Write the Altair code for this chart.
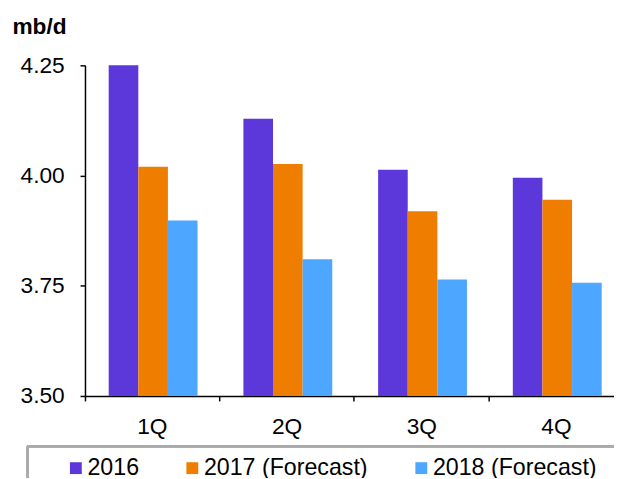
import altair as alt
import pandas as pd

quarters = ["1Q", "2Q", "3Q", "4Q"]
series_names = ["2016", "2017 (Forecast)", "2018 (Forecast)"]
s2016 = [4.250, 4.129, 4.013, 3.995]
s2017 = [4.020, 4.026, 3.919, 3.945]
s2018 = [3.898, 3.810, 3.764, 3.757]
y_ticks = [3.50, 3.75, 4.00, 4.25]
colors = ["#5C37DA", "#EE7D00", "#4DA6FF"]

rows = []
for name, vals in zip(series_names, [s2016, s2017, s2018]):
    for q, v in zip(quarters, vals):
        rows.append({"quarter": q, "series": name, "value": v})
df = pd.DataFrame(rows)

FONT = "Liberation Sans"

bars = alt.Chart(df).mark_bar().encode(
    x=alt.X("quarter:N", sort=quarters,
            scale=alt.Scale(paddingInner=0.073, paddingOuter=0),
            axis=alt.Axis(title=None, labelAngle=0, bandPosition=0, labelOffset=5,
                          domainColor="black", tickColor="black", tickSize=5,
                          labelFontSize=23, labelFont=FONT, labelColor="black",
                          labelPadding=15, domainWidth=1.5, tickWidth=1.5)),
    xOffset=alt.XOffset("series:N", sort=series_names,
                        scale=alt.Scale(paddingInner=0, paddingOuter=0.608, align=0.658)),
    y=alt.Y("value:Q",
            scale=alt.Scale(domain=[3.5, 4.25], nice=False, zero=False),
            axis=alt.Axis(title="mb/d", values=y_ticks, format=".2f", grid=False,
                          domainColor="black", tickColor="black", tickSize=5,
                          labelFontSize=23, labelFont=FONT, labelColor="black",
                          labelPadding=16, domainWidth=1.5, tickWidth=1.5,
                          titleAngle=0, titleAlign="left", titleBaseline="alphabetic",
                          titleX=-74, titleY=-32, titleFont=FONT, titleFontSize=23,
                          titleFontWeight="bold", titleColor="black")),
    y2=alt.datum(3.5),
    color=alt.Color("series:N", sort=series_names,
                    scale=alt.Scale(domain=series_names, range=colors),
                    legend=alt.Legend(title=None, orient="none", direction="horizontal",
                                      legendX=-21, legendY=396, symbolType="square",
                                      symbolSize=144, symbolStrokeWidth=0,
                                      symbolOpacity=1,
                                      labelFontSize=23.5, labelFont=FONT, labelColor="black",
                                      labelOffset=0, columnPadding=42, padding=0,
                                      labelLimit=400)),
)

box_top = alt.Chart(df).mark_rule(color="#aaaaaa", strokeWidth=2).encode(
    x=alt.value(-58), x2=alt.value(560), y=alt.value(386)
)
box_left = alt.Chart(df).mark_rule(color="#aaaaaa", strokeWidth=2).encode(
    x=alt.value(-58), y=alt.value(386), y2=alt.value(420)
)

chart = alt.layer(bars, box_top, box_left).properties(
    width=536, height=335,
    autosize=alt.AutoSizeParams(type="none"),
    padding={"left": 78, "top": 55, "right": 0, "bottom": 80},
).configure_view(stroke=None)

chart.save("out.html", embed_options={"renderer": "svg", "actions": False})
